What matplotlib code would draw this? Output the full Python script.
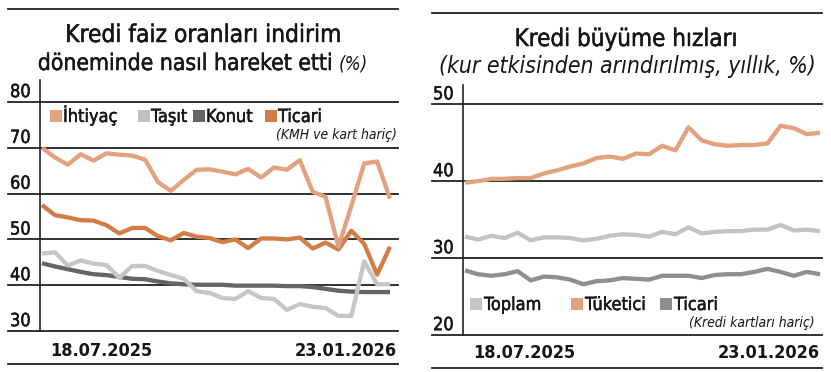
import matplotlib
matplotlib.use('Agg')
import matplotlib.pyplot as plt
import matplotlib.transforms as mtrans
import matplotlib.patheffects as pe
from matplotlib.patches import Rectangle
from matplotlib.lines import Line2D

# ---------------- DATA ----------------
weeks = list(range(28))  # weekly, 18.07.2025 .. 23.01.2026
date_labels = ["18.07.2025", "23.01.2026"]

left_title1 = "Kredi faiz oranları indirim"
left_title2 = "döneminde nasıl hareket etti"
left_title_unit = "(%)"
left_yticks = [30, 40, 50, 60, 70, 80]
left_names = ["İhtiyaç", "Taşıt", "Konut", "Ticari"]
left_note = "(KMH ve kart hariç)"

ihtiyac = [70.0, 67.9, 66.3, 68.6, 67.2, 68.8, 68.5, 68.3, 67.4, 62.5, 60.6, 63.0, 65.2, 65.3,
           64.8, 64.2, 65.4, 63.5, 65.7, 65.2, 67.3, 60.4, 59.3, 48.4, 57.3, 66.6, 67.0, 58.9]
tasit = [46.9, 47.2, 44.3, 45.4, 44.7, 44.4, 41.6, 44.2, 44.2, 43.1, 42.2, 41.4, 38.7, 38.3,
         37.2, 37.0, 38.7, 37.2, 37.0, 34.6, 35.9, 35.3, 35.0, 33.3, 33.3, 45.2, 40.2, 40.2]
konut = [44.8, 44.1, 43.5, 42.9, 42.4, 42.2, 41.8, 41.4, 41.3, 40.8, 40.4, 40.2, 40.1, 40.1,
         40.1, 39.9, 39.9, 39.9, 39.9, 39.8, 39.8, 39.6, 39.2, 38.8, 38.6, 38.5, 38.5, 38.5]
ticari_faiz = [57.5, 55.3, 54.8, 54.2, 54.1, 53.1, 51.3, 52.5, 52.5, 50.7, 49.8, 51.4, 50.6, 50.3,
               49.4, 50.0, 48.1, 50.2, 50.2, 50.0, 50.4, 48.0, 49.3, 47.8, 51.9, 49.0, 42.3, 48.4]

right_title1 = "Kredi büyüme hızları"
right_title2 = "(kur etkisinden arındırılmış, yıllık, %)"
right_yticks = [20, 30, 40, 50]
right_names = ["Toplam", "Tüketici", "Ticari"]
right_note = "(Kredi kartları hariç)"

toplam = [32.8, 32.4, 32.9, 32.6, 33.3, 32.3, 32.7, 32.7, 32.6, 32.3, 32.5, 32.9, 33.1, 33.0,
          32.8, 33.4, 33.1, 34.0, 33.2, 33.4, 33.5, 33.5, 33.7, 33.7, 34.3, 33.6, 33.7, 33.5]
tuketici = [39.8, 40.0, 40.3, 40.3, 40.4, 40.4, 41.0, 41.4, 41.9, 42.3, 43.0, 43.2, 42.9, 43.6,
            43.5, 44.6, 44.0, 47.0, 45.3, 44.8, 44.6, 44.7, 44.7, 44.9, 47.2, 46.9, 46.1, 46.3]
ticari_buyume = [28.4, 27.9, 27.7, 27.9, 28.3, 27.1, 27.6, 27.5, 27.2, 26.6, 27.0, 27.1, 27.4, 27.3,
                 27.2, 27.7, 27.7, 27.7, 27.4, 27.8, 27.9, 27.9, 28.2, 28.6, 28.2, 27.7, 28.2, 27.9]

# ---------------- STYLE ----------------
W, H = 831, 372
FONT = dict(family='DejaVu Sans', stretch='condensed')
TXT = '#161616'
MED = [pe.withStroke(linewidth=0.35, foreground=TXT)]
C_IHT = '#E2A27E'
C_TAS = '#C6C6C6'
C_KON = '#656565'
C_TIC = '#D27D48'
C_TOP = '#C3C3C3'
C_TUK = '#E2A27E'
C_TIC2 = '#8F8F91'

fig = plt.figure(figsize=(W / 100, H / 100), dpi=100)
fig.patch.set_facecolor('white')
renderer = fig.canvas.get_renderer()


def fx(px):
    return px / W


def fy(py):
    return 1 - py / H


def hline(x0, x1, y, lw=1.3, color='#222222'):
    fig.add_artist(Line2D([fx(x0), fx(x1)], [fy(y), fy(y)], transform=fig.transFigure,
                          color=color, lw=lw))


def fit_text(x_center, y_baseline, s, target_w, size0, **kw):
    t = fig.text(fx(x_center), fy(y_baseline), s, ha='center', va='baseline',
                 fontsize=size0, color=TXT, **FONT, **kw)
    w = t.get_window_extent(renderer).width
    t.set_fontsize(size0 * target_w / w)
    return t


def square(x, y, color, s=12):
    fig.add_artist(Rectangle((fx(x), fy(y + s)), s / W, s / H, transform=fig.transFigure,
                             facecolor=color, edgecolor='none'))


# ---------------- LEFT PANEL ----------------
hline(8, 398, 9)
hline(8, 398, 364)
fit_text(203, 42, left_title1, 275, 17, path_effects=MED)
# second line with italic unit
t_main = fig.text(0, fy(70), left_title2 + " ", ha='left', va='baseline', fontsize=17,
                  color=TXT, path_effects=MED, **FONT)
t_unit = fig.text(0, fy(70), left_title_unit, ha='left', va='baseline', fontsize=14,
                  color=TXT, style='italic', **FONT)
wm = t_main.get_window_extent(renderer).width
scale = 300 / wm
t_main.set_fontsize(17 * scale)
t_unit.set_fontsize(14 * scale)
wm = t_main.get_window_extent(renderer).width
wu = t_unit.get_window_extent(renderer).width
start = 203 - (wm + wu) / 2
t_main.set_x(fx(start))
t_unit.set_x(fx(start + wm))

axL = fig.add_axes([fx(40), fy(331), 358 / W, 251 / H])
axL.set_xlim(-0.155, 27.62)
axL.set_ylim(30, 84.8)
for sp in ['top', 'right', 'bottom']:
    axL.spines[sp].set_visible(False)
axL.spines['left'].set_color('#222222')
axL.spines['left'].set_linewidth(1.2)
axL.set_xticks([])
axL.set_yticks([])
axL.patch.set_alpha(0)
trL = mtrans.blended_transform_factory(axL.transAxes, axL.transData)
for v in left_yticks:
    axL.plot([(8 - 40) / 358, 1], [v, v], transform=trL, color='#222222', lw=1.3,
             clip_on=False, zorder=1)
    axL.text((10 - 40) / 358, v, str(v), transform=mtrans.offset_copy(trL, fig, y=3.5, units='points'),
             ha='left', va='baseline', fontsize=13, color=TXT, path_effects=MED, **FONT)

lw = 3.1
axL.plot(weeks, konut, color=C_KON, lw=lw, solid_capstyle='butt', zorder=3)
axL.plot(weeks, tasit, color=C_TAS, lw=lw, solid_capstyle='butt', zorder=4)
axL.plot(weeks, ticari_faiz, color=C_TIC, lw=lw, solid_capstyle='butt', zorder=5)
axL.plot(weeks, ihtiyac, color=C_IHT, lw=lw, solid_capstyle='butt', zorder=6)

leg_cols = [C_IHT, '#C0C0C0', C_KON, C_TIC]
leg_x = [50, 138, 193, 265]
for name, c, x in zip(left_names, leg_cols, leg_x):
    square(x, 110, c, 12)
    fig.text(fx(x + 13), fy(122), name, ha='left', va='baseline', fontsize=13, color=TXT,
             path_effects=MED, **FONT)
fig.text(fx(397), fy(139), left_note, ha='right', va='baseline', fontsize=10, color=TXT,
         style='italic', **FONT)

fig.text(fx(50), fy(356), date_labels[0], ha='left', va='baseline', fontsize=13, color=TXT,
         weight='bold', **FONT)
fig.text(fx(397), fy(356), date_labels[1], ha='right', va='baseline', fontsize=13, color=TXT,
         weight='bold', **FONT)

# ---------------- RIGHT PANEL ----------------
hline(432, 822, 13)
hline(432, 822, 368)
fit_text(626, 46, right_title1, 222, 17, path_effects=MED)
fit_text(627, 73, right_title2, 379, 15, style='italic')

axR = fig.add_axes([fx(463), fy(335), 359 / W, 250 / H])
axR.set_xlim(-0.152, 27.15)
axR.set_ylim(20, 52.5)
for sp in ['top', 'right', 'bottom']:
    axR.spines[sp].set_visible(False)
axR.spines['left'].set_color('#222222')
axR.spines['left'].set_linewidth(1.2)
axR.set_xticks([])
axR.set_yticks([])
axR.patch.set_alpha(0)
trR = mtrans.blended_transform_factory(axR.transAxes, axR.transData)
for v in right_yticks:
    axR.plot([(432 - 463) / 359, 1], [v, v], transform=trR, color='#222222', lw=1.3,
             clip_on=False, zorder=1)
    axR.text((433 - 463) / 359, v, str(v), transform=mtrans.offset_copy(trR, fig, y=3.5, units='points'),
             ha='left', va='baseline', fontsize=13, color=TXT, path_effects=MED, **FONT)

axR.plot(weeks, toplam, color=C_TOP, lw=lw, solid_capstyle='butt', zorder=3)
axR.plot(weeks, ticari_buyume, color=C_TIC2, lw=lw, solid_capstyle='butt', zorder=4)
axR.plot(weeks, tuketici, color=C_TUK, lw=lw, solid_capstyle='butt', zorder=5)

leg_cols_r = [C_TOP, C_TUK, C_TIC2]
leg_x_r = [470, 571, 660]
for name, c, x in zip(right_names, leg_cols_r, leg_x_r):
    square(x, 298, c, 12)
    fig.text(fx(x + 14), fy(310), name, ha='left', va='baseline', fontsize=13, color=TXT,
             path_effects=MED, **FONT)
fig.text(fx(815), fy(327), right_note, ha='right', va='baseline', fontsize=10, color=TXT,
         style='italic', **FONT)

fig.text(fx(473), fy(358), date_labels[0], ha='left', va='baseline', fontsize=13, color=TXT,
         weight='bold', **FONT)
fig.text(fx(820), fy(358), date_labels[1], ha='right', va='baseline', fontsize=13, color=TXT,
         weight='bold', **FONT)

fig.savefig('out.png', dpi=100, facecolor='white')
